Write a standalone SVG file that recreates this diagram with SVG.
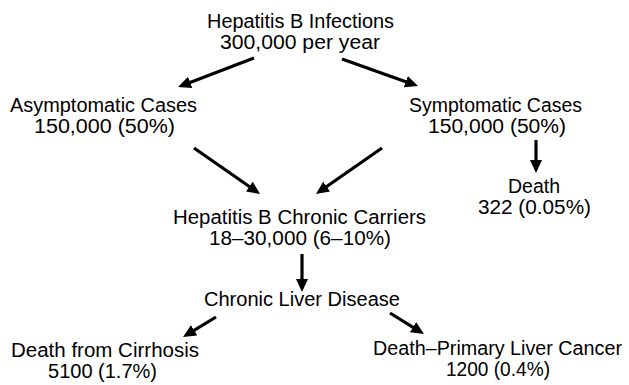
<svg xmlns="http://www.w3.org/2000/svg" width="629" height="385" viewBox="0 0 629 385">
<style>
text{font-family:"Liberation Sans","DejaVu Sans",sans-serif;font-size:20px;fill:#000}
.c{stroke:#000;stroke-width:3.2;fill:none;marker-end:url(#ah)}
</style>
<defs>
<marker id="ah" markerUnits="userSpaceOnUse" markerWidth="14" markerHeight="12" viewBox="0 0 14 12" refX="3" refY="6" orient="auto">
<path d="M0,0 L13,6 L0,12 z" fill="#000"/>
</marker>
</defs>
<rect width="629" height="385" fill="#fff"/>
<g id="connectors">
<line class="c" x1="254" y1="58" x2="187.4" y2="83.4"/>
<line class="c" x1="342" y1="59" x2="408.6" y2="82.7"/>
<line class="c" x1="194" y1="148" x2="251.8" y2="188.3"/>
<line class="c" x1="382" y1="148" x2="324.2" y2="188.3"/>
<line class="c" x1="536" y1="140" x2="536" y2="163"/>
<line class="c" x1="302" y1="254" x2="302" y2="282"/>
<line class="c" x1="216" y1="317" x2="191.6" y2="331.8"/>
<line class="c" x1="390" y1="313" x2="415.5" y2="328.8"/>
</g>
<g id="infections">
<text x="207" y="28" textLength="187" lengthAdjust="spacingAndGlyphs">Hepatitis B Infections</text>
<text x="220" y="49" textLength="160" lengthAdjust="spacingAndGlyphs">300,000 per year</text>
</g>
<g id="asymptomatic">
<text x="10" y="112" textLength="187" lengthAdjust="spacingAndGlyphs">Asymptomatic Cases</text>
<text x="34" y="133" textLength="141" lengthAdjust="spacingAndGlyphs">150,000 (50%)</text>
</g>
<g id="symptomatic">
<text x="409" y="112" textLength="173" lengthAdjust="spacingAndGlyphs">Symptomatic Cases</text>
<text x="428" y="133" textLength="138" lengthAdjust="spacingAndGlyphs">150,000 (50%)</text>
</g>
<g id="death">
<text x="508" y="193" textLength="52" lengthAdjust="spacingAndGlyphs">Death</text>
<text x="478" y="214" textLength="113" lengthAdjust="spacingAndGlyphs">322 (0.05%)</text>
</g>
<g id="carriers">
<text x="173" y="224" textLength="253" lengthAdjust="spacingAndGlyphs">Hepatitis B Chronic Carriers</text>
<text x="209" y="245" textLength="182" lengthAdjust="spacingAndGlyphs">18–30,000 (6–10%)</text>
</g>
<g id="liver-disease">
<text x="204" y="306" textLength="196" lengthAdjust="spacingAndGlyphs">Chronic Liver Disease</text>
</g>
<g id="cirrhosis">
<text x="11" y="357" textLength="188" lengthAdjust="spacingAndGlyphs">Death from Cirrhosis</text>
<text x="48" y="378" textLength="109" lengthAdjust="spacingAndGlyphs">5100 (1.7%)</text>
</g>
<g id="cancer">
<text x="373" y="355" textLength="249" lengthAdjust="spacingAndGlyphs">Death–Primary Liver Cancer</text>
<text x="446" y="376" textLength="104" lengthAdjust="spacingAndGlyphs">1200 (0.4%)</text>
</g>
</svg>
